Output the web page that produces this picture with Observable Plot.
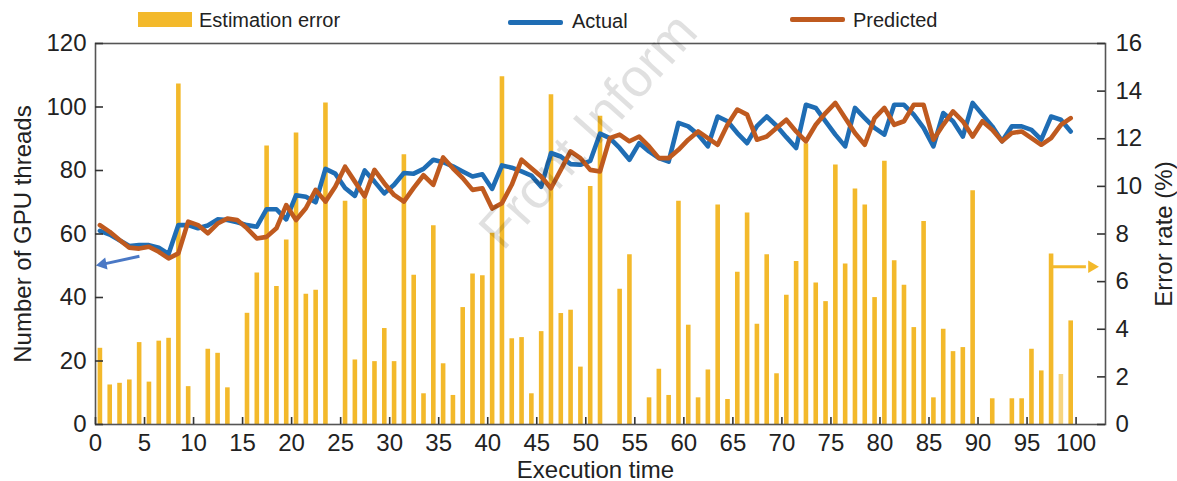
<!DOCTYPE html>
<html>
<head>
<meta charset="utf-8">
<script src="https://cdn.jsdelivr.net/npm/d3@7"></script>
<script src="https://cdn.jsdelivr.net/npm/@observablehq/plot@0.6"></script>
<style>
  html, body { margin: 0; padding: 0; background: #fff; }
  #wrap { position: relative; width: 1177px; height: 481px; font-family: "Liberation Sans", Arial, sans-serif; color: #222; }
  .lg { position: absolute; font-size: 20px; line-height: 22px; white-space: nowrap; }
  #overlay { position: absolute; left: 0; top: 0; pointer-events: none; }
</style>
</head>
<body>
<div id="wrap"></div>
<script>
// ---- data ----
const steps = d3.range(100); // execution time steps 0..99

const errorRate = [
  3.2, 1.66, 1.73, 1.87, 3.44, 1.78, 3.5, 3.62, 14.3, 1.59,
  0, 3.16, 2.99, 1.54, 0, 4.67, 6.36, 11.7, 5.8, 7.75,
  12.24, 5.47, 5.64, 13.5, 0, 9.38, 2.71, 9.47, 2.64, 4.03,
  2.64, 11.33, 6.27, 1.29, 8.35, 2.55, 1.22, 4.91, 6.32, 6.25,
  8.03, 14.6, 3.6, 3.65, 1.29, 3.9, 13.85, 4.66, 4.8, 2.41,
  10.0, 12.94, 0, 5.68, 7.13, 0, 1.12, 2.32, 1.22, 9.38,
  4.17, 1.12, 2.29, 9.22, 1.05, 6.39, 8.88, 4.21, 7.13, 2.13,
  5.43, 6.84, 11.79, 5.94, 5.16, 10.9, 6.74, 9.89, 9.22, 5.33,
  11.05, 6.88, 5.85, 4.07, 8.52, 1.12, 4.0, 3.06, 3.23, 9.82,
  0, 1.08, 0, 1.08, 1.08, 3.16, 2.25, 7.16, 2.1, 4.35
];

const actual = [
  61, 59.8, 58, 56.2, 56.5, 56.5, 55.7, 53.7, 62.8, 62.8,
  61.8, 62.7, 64.6, 64.4, 63.7, 62.8, 62.3, 67.8, 67.8, 64.6,
  72.2, 71.7, 70, 80.5, 79, 74.5, 72, 80, 76.5, 72.8,
  75.5, 79.2, 79, 80.5, 83.4, 82.6, 81.3, 79.7, 78.1, 78.8,
  74.2, 81.6, 80.9, 79.7, 78.4, 74.9, 85.5, 84.4, 82, 81.8,
  83, 91.6, 90.2, 87.1, 83.4, 88.6, 86, 83.9, 82.8, 95,
  93.9, 91.3, 87.6, 97, 95.5, 91.8, 88.6, 94, 97, 94.1,
  90.5, 87.1, 100.7, 99.7, 95.5, 91.3, 87.6, 99.7, 96.5, 93.4,
  91.3, 100.7, 100.7, 97.6, 93.4, 87.6, 98.1, 95.5, 90.7, 101.3,
  97.6, 93.9, 89.2, 93.9, 93.9, 92.8, 89.7, 97, 96, 92.3
];

const predicted = [
  62.8, 60.7, 58.1, 55.7, 55.4, 56, 54.4, 52.3, 53.9, 63.9,
  62.8, 60.2, 63.3, 64.9, 64.4, 61.8, 58.6, 59.1, 61.8, 69.1,
  64.4, 68.1, 73.9, 70.2, 74.9, 81.2, 76.5, 71.8, 80.2, 76,
  72.3, 70.2, 74.5, 78.5, 75.5, 84.1, 80.7, 77.6, 73.9, 74.4,
  68, 69.7, 75.5, 83.4, 80.7, 78.1, 74.4, 80.2, 86, 83.9,
  80.2, 79.7, 90.2, 91.3, 89.2, 90.7, 87.6, 83.9, 83.9, 86.5,
  89.7, 92.3, 90.2, 88.1, 94.4, 99.2, 97.6, 89.7, 90.7, 93.4,
  96, 92.3, 89.2, 94.4, 98.1, 101.3, 96.5, 91.8, 88.1, 96.5,
  99.7, 94.4, 95.5, 100.7, 100.7, 89.7, 94.4, 98.6, 95.5, 90.7,
  95.5, 92.8, 89.2, 91.8, 92.3, 90.2, 88.1, 90.2, 94.4, 96.5
];

const xTicks = [0, 5, 10, 15, 20, 25, 30, 35, 40, 45, 50, 55, 60, 65, 70, 75, 80, 85, 90, 95, 100];
const leftTicks = [0, 20, 40, 60, 80, 100, 120];
const rightTicks = [0, 2, 4, 6, 8, 10, 12, 14, 16];

// annotation arrows (data units: time, threads); head = filled triangle near the tip
const arrowNotes = [
  {x1: 4.48, y1: 53.0, x2: 0.9, y2: 50.6, hx: 0.75, hy: 50.5, rot: 259, color: "#4a78c5"},
  {x1: 97.45, y1: 49.7, x2: 101.0, y2: 49.7, hx: 101.6, hy: 49.7, rot: 90, color: "#f3b92b"}
];

// ---- styling ----
const BAR = "#f3b92b";
const BLUE = "#1f6db4";
const ORANGE = "#bf5a1f";
const k = 120 / 16; // right axis (%) -> left axis (threads)
const barOffset = 0.45;

const rows = steps.map((t, i) => ({t, err: errorRate[i], actual: actual[i], predicted: predicted[i]}));

const W = 1177, H = 481, ML = 95, MR = 72, MT = 43, MB = 57;
const FW = W - ML - MR, FH = H - MT - MB;

const chart = Plot.plot({
  width: W, height: H,
  marginLeft: ML, marginRight: MR, marginTop: MT, marginBottom: MB,
  x: {domain: [0, 103]},
  y: {domain: [0, 120]},
  style: {fontFamily: "'Liberation Sans', Arial, sans-serif", fontSize: "24px", color: "#222", background: "transparent", overflow: "visible"},
  marks: [
    Plot.ruleX(rows, {x: d => d.t + barOffset, y1: 0, y2: d => d.err * k, stroke: (d) => d.t === 98 ? "#f7d57f" : BAR, strokeWidth: 4.6}),
    Plot.line(rows, {x: d => d.t + barOffset, y: "actual", stroke: BLUE, strokeWidth: 4.6}),
    Plot.line(rows, {x: d => d.t + barOffset, y: "predicted", stroke: ORANGE, strokeWidth: 4.6}),
    Plot.link(arrowNotes, {x1: "x1", y1: "y1", x2: "x2", y2: "y2", stroke: d => d.color, strokeWidth: 3}),
    Plot.dot(arrowNotes, {x: "hx", y: "hy", symbol: "triangle", r: 4.6, rotate: "rot", fill: d => d.color, stroke: "none"}),
    Plot.frame({stroke: "#555", strokeWidth: 1.6}),
    Plot.ruleX(xTicks, {x: d => d, insetTop: FH - 7, stroke: "#333", strokeWidth: 1.6}),
    Plot.ruleY(leftTicks, {y: d => d, insetRight: FW - 8, stroke: "#333", strokeWidth: 1.6}),
    Plot.ruleY(rightTicks.map(v => v * k), {y: d => d, insetLeft: FW - 8, stroke: "#333", strokeWidth: 1.6}),
    Plot.axisX({ticks: xTicks, tickSize: 0, tickPadding: 9, label: null, fontSize: 24}),
    Plot.axisY({ticks: leftTicks, tickSize: 0, tickPadding: 9, label: null, fontSize: 24}),
    Plot.axisY({anchor: "right", ticks: rightTicks.map(v => v * k), tickFormat: v => String(Math.round(v / k)), tickSize: 0, tickPadding: 10, label: null, fontSize: 24}),
    Plot.text(["Number of GPU threads"], {frameAnchor: "left", dx: -72, rotate: -90, fontSize: 24, fill: "#222", textAnchor: "middle", lineAnchor: "middle"}),
    Plot.text(["Error rate (%)"], {frameAnchor: "right", dx: 59, rotate: -90, fontSize: 24, fill: "#222", textAnchor: "middle", lineAnchor: "middle"}),
    Plot.text(["Execution time"], {frameAnchor: "bottom", dx: -5, dy: 46, fontSize: 24, fill: "#222", textAnchor: "middle", lineAnchor: "middle"})
  ]
});

const wrap = document.getElementById("wrap");
wrap.appendChild(chart);
chart.style.position = "absolute";
chart.style.left = "0px";
chart.style.top = "0px";

// legend (HTML, above the plot area)
const legendItems = [
  {label: "Estimation error", kind: "rect", color: BAR, sx: 138, sy: 12, sw: 54, sh: 15, tx: 199, ty: 9},
  {label: "Actual", kind: "line", color: BLUE, sx: 508, sy: 20, sw: 55, sh: 5, tx: 572, ty: 10},
  {label: "Predicted", kind: "line", color: ORANGE, sx: 790, sy: 17, sw: 55, sh: 5, tx: 853, ty: 9}
];
for (const it of legendItems) {
  const sw = document.createElement("div");
  sw.style.cssText = `position:absolute;left:${it.sx}px;top:${it.sy}px;width:${it.sw}px;height:${it.sh}px;background:${it.color};border-radius:${it.kind === "line" ? 2 : 0}px;`;
  wrap.appendChild(sw);
  const t = document.createElement("div");
  t.className = "lg";
  t.style.left = it.tx + "px";
  t.style.top = it.ty + "px";
  t.textContent = it.label;
  wrap.appendChild(t);
}

// watermark
const ns = "http://www.w3.org/2000/svg";
const ov = document.createElementNS(ns, "svg");
ov.setAttribute("id", "overlay");
ov.setAttribute("width", W);
ov.setAttribute("height", H);
const wm = document.createElementNS(ns, "text");
wm.setAttribute("transform", "translate(503,252) rotate(-48)");
wm.setAttribute("font-size", "54");
wm.setAttribute("font-family", "'Liberation Sans', Arial, sans-serif");
wm.setAttribute("fill", "#000");
wm.setAttribute("fill-opacity", "0.12");
wm.textContent = "Front Inform";
ov.appendChild(wm);
wrap.appendChild(ov);
</script>
</body>
</html>
